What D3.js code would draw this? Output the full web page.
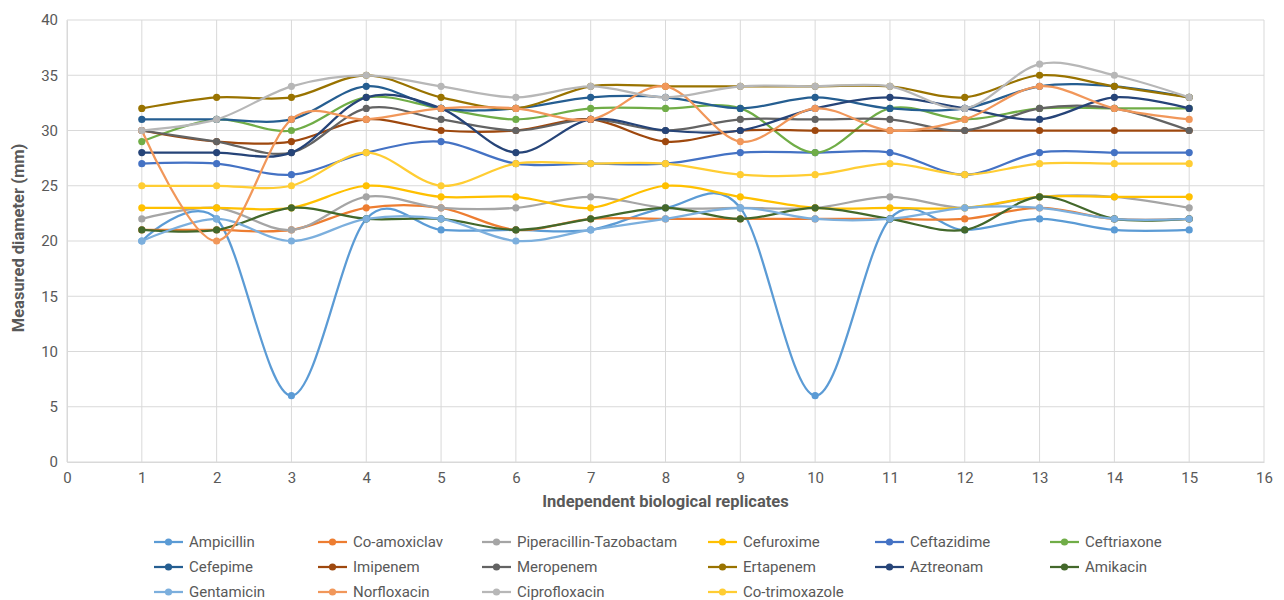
<!DOCTYPE html>
<html>
<head>
<meta charset="utf-8">
<script src="https://cdn.jsdelivr.net/npm/d3@7"></script>
<style>
  body { margin: 0; background: #fff; }
  #graf { width: 1284px; height: 600px; }
  text { font-family: "Roboto", sans-serif; fill: #595959; }
</style>
</head>
<body>
<div id="graf"></div>
<script>
// datos
replicas = [1, 2, 3, 4, 5, 6, 7, 8, 9, 10, 11, 12, 13, 14, 15]
xTicks = [0, 1, 2, 3, 4, 5, 6, 7, 8, 9, 10, 11, 12, 13, 14, 15, 16]
yTicks = [0, 5, 10, 15, 20, 25, 30, 35, 40]

ampicillin     = [20, 22, 6, 22, 21, 21, 21, 23, 23, 6, 22, 21, 22, 21, 21]
coAmoxiclav    = [21, 21, 21, 23, 23, 21, 22, 22, 22, 22, 22, 22, 23, 22, 22]
piperacillin   = [22, 23, 21, 24, 23, 23, 24, 23, 23, 23, 24, 23, 24, 24, 23]
cefuroxime     = [23, 23, 23, 25, 24, 24, 23, 25, 24, 23, 23, 23, 24, 24, 24]
ceftazidime    = [27, 27, 26, 28, 29, 27, 27, 27, 28, 28, 28, 26, 28, 28, 28]
ceftriaxone    = [29, 31, 30, 33, 32, 31, 32, 32, 32, 28, 32, 31, 32, 32, 32]
cefepime       = [31, 31, 31, 34, 32, 32, 33, 33, 32, 33, 32, 32, 34, 34, 33]
imipenem       = [30, 29, 29, 31, 30, 30, 31, 29, 30, 30, 30, 30, 30, 30, 30]
meropenem      = [30, 29, 28, 32, 31, 30, 31, 30, 31, 31, 31, 30, 32, 32, 30]
ertapenem      = [32, 33, 33, 35, 33, 32, 34, 34, 34, 34, 34, 33, 35, 34, 33]
aztreonam      = [28, 28, 28, 33, 32, 28, 31, 30, 30, 32, 33, 32, 31, 33, 32]
amikacin       = [21, 21, 23, 22, 22, 21, 22, 23, 22, 23, 22, 21, 24, 22, 22]
gentamicin     = [20, 22, 20, 22, 22, 20, 21, 22, 23, 22, 22, 23, 23, 22, 22]
norfloxacin    = [30, 20, 31, 31, 32, 32, 31, 34, 29, 32, 30, 31, 34, 32, 31]
ciprofloxacin  = [30, 31, 34, 35, 34, 33, 34, 33, 34, 34, 34, 32, 36, 35, 33]
coTrimoxazole  = [25, 25, 25, 28, 25, 27, 27, 27, 26, 26, 27, 26, 27, 27, 27]

nombres = ['Ampicillin', 'Co-amoxiclav', 'Piperacillin-Tazobactam', 'Cefuroxime',
           'Ceftazidime', 'Ceftriaxone', 'Cefepime', 'Imipenem', 'Meropenem',
           'Ertapenem', 'Aztreonam', 'Amikacin', 'Gentamicin', 'Norfloxacin',
           'Ciprofloxacin', 'Co-trimoxazole']
valores = [ampicillin, coAmoxiclav, piperacillin, cefuroxime, ceftazidime, ceftriaxone,
           cefepime, imipenem, meropenem, ertapenem, aztreonam, amikacin, gentamicin,
           norfloxacin, ciprofloxacin, coTrimoxazole]
colores = ['#5B9BD5', '#ED7D31', '#A5A5A5', '#FFC000', '#4472C4', '#70AD47',
           '#255E91', '#9E480E', '#636363', '#997300', '#264478', '#43682B',
           '#7CAFDD', '#F1975A', '#B7B7B7', '#FFCD33']

series = nombres.map((n, i) => ({
  nombre: n,
  color: colores[i],
  puntos: replicas.map((r, j) => ({ x: r, y: valores[i][j] }))
}))

// margenes
ancho_total = 1284
alto_total = 600
margins = { top: 20, left: 67, right: 20, bottom: 138 }
ancho = 1264 - margins.left
alto = 462 - margins.top

svg = d3.select('#graf').append('svg')
        .attr('width', ancho_total)
        .attr('height', alto_total)

g = svg.append('g')
       .attr('transform', `translate(${ margins.left }, ${ margins.top })`)

// escalas
x = d3.scaleLinear().domain([0, 16]).range([0, ancho])
y = d3.scaleLinear().domain([0, 40]).range([alto, 0])

// rejilla
g.append('g').selectAll('line')
  .data(yTicks)
  .join('line')
    .attr('x1', 0).attr('x2', ancho)
    .attr('y1', d => y(d)).attr('y2', d => y(d))
    .attr('stroke', '#D9D9D9').attr('stroke-width', 1)

g.append('g').selectAll('line')
  .data(xTicks)
  .join('line')
    .attr('x1', d => x(d)).attr('x2', d => x(d))
    .attr('y1', 0).attr('y2', alto)
    .attr('stroke', '#D9D9D9').attr('stroke-width', 1)

// ejes
yAxisCall = d3.axisLeft(y).tickValues(yTicks).tickSize(0).tickPadding(9)
yAxisGroup = g.append('g').call(yAxisCall)
yAxisGroup.select('.domain').attr('stroke', '#D9D9D9')
yAxisGroup.selectAll('text').style('font-size', '15px').attr('fill', '#595959')

xAxisCall = d3.axisBottom(x).tickValues(xTicks).tickSize(0).tickPadding(10)
xAxisGroup = g.append('g').attr('transform', `translate(0, ${ alto })`).call(xAxisCall)
xAxisGroup.select('.domain').attr('stroke', '#D9D9D9')
xAxisGroup.selectAll('text').style('font-size', '15px').attr('fill', '#595959')

// titulos
svg.append('text')
   .attr('x', margins.left + ancho / 2)
   .attr('y', 507)
   .attr('text-anchor', 'middle')
   .style('font-size', '16.5px')
   .style('font-weight', 'bold')
   .text('Independent biological replicates')

svg.append('text')
   .attr('transform', `translate(24, ${ margins.top + alto / 2 - 3 }) rotate(-90)`)
   .attr('text-anchor', 'middle')
   .style('font-size', '16.5px')
   .style('font-weight', 'bold')
   .text('Measured diameter (mm)')

// lineas suavizadas
linea = d3.line()
          .x(d => x(d.x))
          .y(d => y(d.y))
          .curve(d3.curveCardinal.tension(0))

grupos = g.selectAll('.serie')
          .data(series)
          .join('g')
          .attr('class', 'serie')

grupos.append('path')
      .attr('d', d => linea(d.puntos))
      .attr('fill', 'none')
      .attr('stroke', d => d.color)
      .attr('stroke-width', 2.25)

grupos.selectAll('circle')
      .data(d => d.puntos.map(p => ({ ...p, color: d.color })))
      .join('circle')
        .attr('cx', d => x(d.x))
        .attr('cy', d => y(d.y))
        .attr('r', 3.6)
        .attr('fill', d => d.color)

// leyenda
colX = [154, 318, 482, 708, 875, 1050]
filaY = [542, 567, 592]

leyenda = svg.append('g').selectAll('g')
             .data(series)
             .join('g')
             .attr('transform', (d, i) => `translate(${ colX[i % 6] }, ${ filaY[Math.floor(i / 6)] })`)

leyenda.append('line')
       .attr('x1', 0).attr('x2', 29)
       .attr('stroke', d => d.color)
       .attr('stroke-width', 2.25)
leyenda.append('circle')
       .attr('cx', 14.5).attr('r', 3.6)
       .attr('fill', d => d.color)
leyenda.append('text')
       .attr('x', 35)
       .attr('dy', '0.35em')
       .style('font-size', '15px')
       .text(d => d.nombre)
</script>
</body>
</html>
